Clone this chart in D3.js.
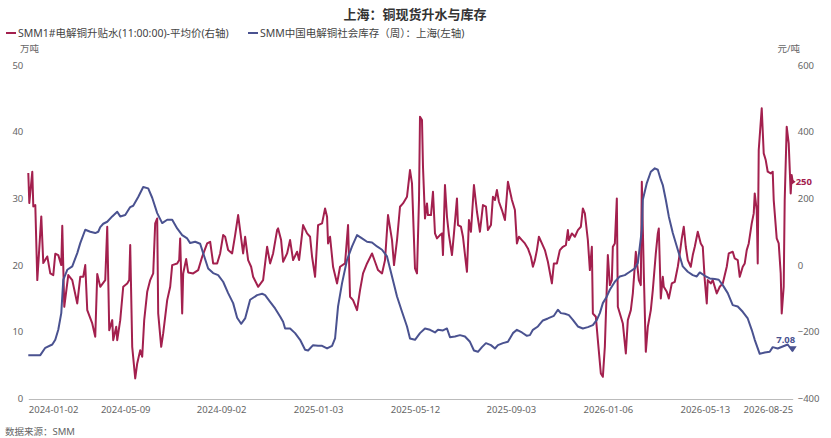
<!DOCTYPE html>
<html>
<head>
<meta charset="utf-8">
<script src="https://cdn.jsdelivr.net/npm/d3@7/dist/d3.min.js"></script>
<style>
  body { margin: 0; background: #fff; }
  svg text { font-family: "Noto Sans", "Noto Sans CJK SC", sans-serif; }
  .ejes text { fill: #666; font-size: 9.5px; }
</style>
</head>
<body>
<div id="graf"></div>
<script>
// series: [trading-day index, value]
// SMM1#电解铜升贴水 平均价 (元/吨, right axis)
var premium = [
  [0,276],[1,186],[4,280],[5,176],[7,180],[9,-45],[13,146],[15,6],[19,26],[22,-25],[25,-30],[27,34],[30,30],[33,0],[34,118],[36,-125],
  [40,-30],[44,-45],[49,-115],[52,-35],[55,-35],[57,0],[59,-135],[64,-175],[67,-215],[69,-27],[72,-65],[77,-45],[79,115],[81,-195],
  [84,-165],[85,-225],[88,-185],[89,-225],[92,-165],[95,-65],[99,-55],[101,-45],[102,60],[104,-245],[107,-340],[109,-295],[112,-255],
  [114,-275],[116,-165],[119,-80],[122,-45],[125,-25],[127,125],[129,140],[130,-145],[133,-245],[135,-205],[139,-105],[142,-65],[144,0],
  [149,5],[151,15],[152,80],[154,-145],[155,-25],[158,18],[160,-22],[165,-25],[170,-15],[174,25],[179,65],[182,70],[185,5],[189,5],
  [192,35],[195,90],[197,85],[200,45],[204,35],[207,90],[210,150],[215,35],[217,85],[220,15],[223,-5],[225,-35],[230,-65],[235,-45],
  [239,55],[242,5],[245,35],[249,105],[250,110],[253,75],[255,10],[259,35],[262,75],[265,15],[269,40],[271,15],[275,120],[279,95],
  [282,85],[284,25],[287,-35],[290,120],[294,125],[297,170],[299,145],[300,65],[302,85],[305,-5],[309,-55],[312,-5],[317,5],[320,120],
  [322,-95],[325,-105],[329,-135],[332,-75],[335,-25],[339,5],[344,35],[347,10],[350,-15],[354,-25],[357,15],[360,150],[364,75],[366,0],
  [369,75],[372,175],[375,185],[379,205],[382,285],[384,245],[387,-10],[389,-25],[391,195],[392,445],[394,435],[395,295],[397,140],
  [399,185],[400,150],[403,150],[405,220],[407,95],[409,80],[412,90],[414,95],[415,30],[417,240],[419,145],[421,90],[424,30],[426,95],
  [429,200],[430,120],[433,115],[435,85],[438,5],[439,-20],[441,135],[443,100],[446,240],[449,160],[452,100],[455,180],[458,175],
  [460,105],[463,120],[465,205],[467,195],[469,225],[471,190],[474,165],[477,135],[480,250],[484,195],[487,165],[489,65],[491,85],
  [494,75],[497,65],[500,50],[503,25],[505,-5],[507,15],[509,45],[511,85],[514,65],[517,45],[520,10],[524,-55],[526,5],[529,5],
  [532,45],[535,55],[538,60],[540,105],[541,75],[544,95],[547,85],[550,105],[553,115],[555,170],[557,155],[560,75],[562,-15],[564,55],
  [565,-145],[568,-155],[570,-225],[573,-325],[575,-335],[577,-245],[580,30],[582,-60],[584,-45],[585,55],[587,65],[589,200],[590,-125],
  [593,-155],[595,-175],[598,-265],[600,-165],[603,-135],[605,-85],[608,40],[609,15],[611,-45],[613,-60],[614,250],[616,-25],[618,-260],
  [620,-185],[623,-135],[625,-75],[628,35],[630,95],[631,110],[633,-100],[635,-35],[636,-65],[639,-80],[641,-100],[644,-55],[647,-50],
  [650,-5],[652,35],[654,80],[656,115],[658,55],[660,15],[663,-5],[665,30],[667,55],[670,100],[673,65],[675,55],[677,-45],[679,-115],
  [680,-45],[683,-55],[685,-45],[689,-85],[692,-65],[695,-55],[699,-5],[701,35],[705,40],[707,20],[710,15],[712,-35],[715,-5],[717,5],
  [719,45],[721,65],[724,125],[726,155],[727,215],[729,165],[730,5],[731,345],[734,470],[736,335],[738,315],[740,280],[743,275],
  [745,280],[746,195],[749,80],[751,65],[753,-25],[754,-145],[756,-65],[757,195],[759,415],[761,365],[763,215],[764,270],[765,250]
]

// SMM中国电解铜社会库存（周）：上海 (万吨, left axis)
var stock = [
  [0,6.5],[5,6.5],[12,6.5],[17,7.6],[24,8.1],[27,8.8],[30,10.3],[33,12.8],[35,17.8],[39,19.3],[44,19.8],[49,21.8],[52,23.3],[57,25.3],
  [62,25],[67,24.8],[70,25],[72,25.7],[75,26.2],[79,26.5],[84,27.3],[89,28],[92,27.3],[97,27.5],[102,28.7],[105,28.9],[110,30.2],
  [115,31.7],[120,31.5],[124,30.1],[129,27.8],[134,26.3],[139,26.8],[144,26.8],[149,25.5],[154,24.5],[159,24],[162,23.3],[167,23.5],
  [172,23.2],[175,21.8],[180,19.5],[185,18.8],[190,18.5],[195,17.5],[200,15.8],[205,14.3],[209,12.1],[213,11.2],[217,12],[222,14.8],
  [229,15.5],[234,15.7],[237,15.5],[242,14.5],[247,13.5],[252,12.3],[255,11.5],[257,10.5],[262,10.5],[267,9.8],[272,8.8],[277,7.3],
  [280,7.2],[285,8],[290,7.9],[294,7.9],[299,7.5],[304,7.9],[307,9],[310,13.8],[314,17.3],[319,20.8],[324,22.8],[329,24.5],[334,24],
  [339,23.5],[344,23.4],[349,22.8],[354,22.3],[359,21.3],[364,18.3],[369,15.3],[374,13],[379,10.8],[382,9],[387,8.8],[392,9.8],
  [397,10.5],[402,10.3],[407,9.9],[410,10.3],[415,10.2],[419,10.5],[422,9.2],[427,9.3],[432,9.5],[437,9.3],[442,8.5],[446,7.2],
  [450,7],[454,7.7],[458,8.3],[463,8],[467,7.5],[470,8],[475,8.3],[480,8.5],[485,9.8],[489,10.3],[494,9.9],[499,9.4],[502,9.5],
  [505,10.3],[510,10.8],[515,11.7],[520,12],[526,12.4],[530,13.3],[533,12.8],[537,12.7],[541,12.5],[545,11.8],[550,10.8],[555,10.5],
  [560,10.7],[565,11],[569,11.8],[572,12.8],[575,14.3],[579,15.3],[582,16.3],[587,17.5],[592,18.3],[597,18.5],[602,19],[607,19.5],
  [610,20.3],[614,25.3],[615,29.8],[619,32.3],[623,34],[627,34.5],[630,34.3],[633,32.8],[635,32],[638,29.8],[641,27.3],[645,24.8],
  [650,22.3],[653,20.8],[655,19.8],[660,19],[665,18.5],[669,18.3],[672,18.9],[677,18.4],[682,18],[687,17.9],[691,17.8],[695,17],
  [700,15.8],[705,14],[710,13.8],[715,13],[720,12],[724,10.3],[727,8.8],[732,6.7],[737,6.9],[742,7],[745,7.7],[750,7.5],[755,7.8],
  [760,8.1],[765,7.08]
]

var tickLabels = ['2024-01-02', '2024-05-09', '2024-09-02', '2025-01-03', '2025-05-12', '2025-09-03', '2026-01-06', '2026-05-13', '2026-08-25']
var tickIdx = [0, 97, 193, 290, 387, 483, 580, 677, 765]
var leftTicks = [0, 10, 20, 30, 40, 50]
var rightTicks = [-400, -200, 0, 200, 400, 600]
var seriesNames = ['SMM1#电解铜升贴水(11:00:00)-平均价(右轴)', 'SMM中国电解铜社会库存（周）：上海(左轴)']

var rojo = '#a3204e'
var azul = '#4a5290'

var ancho_total = 831, alto_total = 438
var margins = { top: 65, left: 28.3, right: 38.3, bottom: 39.5 }

svg = d3.select('#graf').append('svg')
        .attr('width', ancho_total)
        .attr('height', alto_total)

// Escaladores
x = d3.scaleLinear().domain([0, 765]).range([margins.left, ancho_total - margins.right])
yL = d3.scaleLinear().domain([0, 50]).range([alto_total - margins.bottom, margins.top])
yR = d3.scaleLinear().domain([-400, 600]).range([alto_total - margins.bottom, margins.top])

// titulo
svg.append('text')
   .attr('x', 415).attr('y', 19)
   .attr('text-anchor', 'middle')
   .attr('font-size', '13px').attr('font-weight', 'bold').attr('fill', '#333')
   .text('上海：铜现货升水与库存')

// leyenda
var ley = [{ x: 2, c: rojo, t: seriesNames[0] }, { x: 244, c: azul, t: seriesNames[1] }]
ley.forEach(l => {
  svg.append('line')
     .attr('x1', l.x + 4).attr('x2', l.x + 14).attr('y1', 33).attr('y2', 33)
     .attr('stroke', l.c).attr('stroke-width', 2)
  svg.append('text')
     .attr('x', l.x + 16).attr('y', 37)
     .attr('font-size', '10.5px').attr('fill', '#444')
     .text(l.t)
})

svg.append('text').attr('x', 20).attr('y', 52).attr('font-size', '9.5px').attr('fill', '#666').text('万吨')
svg.append('text').attr('x', 800).attr('y', 52).attr('font-size', '9.5px').attr('fill', '#666').attr('text-anchor', 'end').text('元/吨')

// Ejes
xAxis = svg.append('g')
   .attr('class', 'ejes')
   .attr('transform', `translate(0, ${alto_total - margins.bottom + 0.5})`)
   .call(d3.axisBottom(x).tickValues(tickIdx).tickFormat((d, i) => tickLabels[i]).tickSize(0).tickPadding(7))
xAxis.select('.domain').attr('stroke', '#bbb')
xAxis.selectAll('text')
   .attr('text-anchor', (d, i) => i == 0 ? 'start' : (i == tickIdx.length - 1 ? 'end' : 'middle'))

yAxisL = svg.append('g')
   .attr('class', 'ejes')
   .attr('transform', `translate(${margins.left}, 0)`)
   .call(d3.axisLeft(yL).tickValues(leftTicks).tickSize(0).tickPadding(5))
yAxisL.select('.domain').remove()

yAxisR = svg.append('g')
   .attr('class', 'ejes')
   .attr('transform', `translate(${ancho_total - margins.right}, 0)`)
   .call(d3.axisRight(yR).tickValues(rightTicks).tickSize(0).tickPadding(5))
yAxisR.select('.domain').remove()

// Generador de líneas
lineaStock = d3.line().x(d => x(d[0])).y(d => yL(d[1]))
lineaPrem = d3.line().x(d => x(d[0])).y(d => yR(d[1]))

svg.append('path')
   .attr('d', lineaPrem(premium))
   .attr('fill', 'none').attr('stroke', rojo).attr('stroke-width', 2).attr('stroke-linejoin', 'round')

svg.append('path')
   .attr('d', lineaStock(stock))
   .attr('fill', 'none').attr('stroke', azul).attr('stroke-width', 2).attr('stroke-linejoin', 'round')

// etiquetas del ultimo valor
var lastP = premium[premium.length - 1]
var lastS = stock[stock.length - 1]
var px = x(lastP[0]), py = yR(lastP[1])
svg.append('path')
   .attr('d', `M${px - 2},${py - 3.5}L${px + 3},${py}L${px - 2},${py + 3.5}Z`)
   .attr('fill', rojo)
svg.append('text')
   .attr('x', px + 3).attr('y', py + 3.5)
   .attr('font-size', '9.5px').attr('font-weight', 'bold').attr('fill', rojo)
   .text(lastP[1])

var sx = x(lastS[0]), sy = yL(lastS[1])
svg.append('path')
   .attr('d', `M${sx - 4},${sy - 5}L${sx + 4},${sy - 5}L${sx},${sy + 1}Z`)
   .attr('fill', azul)
svg.append('text')
   .attr('x', sx - 7).attr('y', sy - 8)
   .attr('text-anchor', 'middle')
   .attr('font-size', '9.5px').attr('font-weight', 'bold').attr('fill', azul)
   .text(lastS[1])

// fuente
svg.append('text').attr('x', 5).attr('y', 435).attr('font-size', '9.5px').attr('fill', '#666').text('数据来源：SMM')
</script>
</body>
</html>
